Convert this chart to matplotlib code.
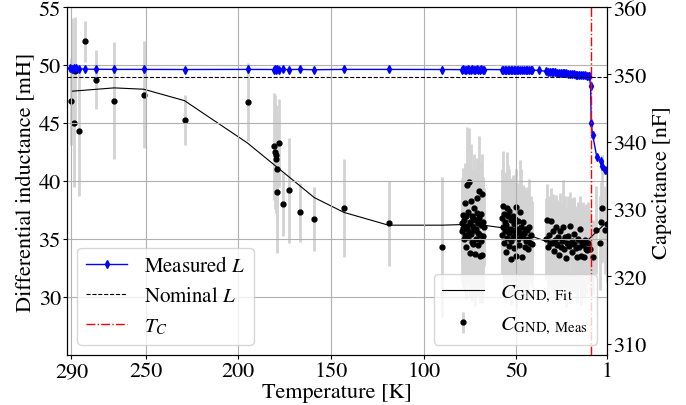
import numpy as np
import matplotlib.pyplot as plt

plt.rcParams['font.family'] = 'STIXGeneral'
plt.rcParams['mathtext.fontset'] = 'stix'
plt.rcParams['font.size'] = 16

# measured capacitance to ground: sparse points at high temperature
T0 = [290.0, 289.5, 288.8, 288.2, 286.0, 282.8, 276.9, 267.0, 251.0, 228.8, 195.0, 180.7, 180.0,
      179.7, 179.4, 179.0, 177.9, 179.2, 176.0, 172.8, 166.7, 159.0, 142.8, 118.8, 90.0]
C0 = [346.0, 350.9, 342.8, 350.5, 341.6, 354.9, 349.2, 346.1, 347.0, 343.2, 345.9, 339.3, 338.5,
      338.1, 337.4, 336.0, 339.8, 332.5, 330.7, 332.8, 329.5, 328.5, 330.1, 327.9, 324.3]
E0 = [6.5, 7.5, 9.6, 8.0, 9.7, 3.0, 4.4, 8.7, 8.0, 3.7, 5.8, 8.0, 8.5,
      7.0, 8.0, 7.5, 6.5, 9.0, 4.7, 7.8, 4.4, 4.8, 7.3, 6.3, 10.4]

# cluster around 67-80 K
T1 = [79.4, 79.1, 78.9, 78.6, 78.4, 78.1, 77.9, 77.6, 77.4, 77.2, 76.9, 76.7, 76.4, 76.2, 75.9,
      75.7, 75.5, 75.2, 75.0, 74.8, 74.5, 74.3, 74.0, 73.8, 73.6, 73.3, 73.1, 72.9, 72.6, 72.4,
      72.1, 71.9, 71.7, 71.4, 71.2, 70.9, 70.7, 70.5, 70.2, 70.0, 69.8, 69.5, 69.3, 69.0, 68.8,
      68.6, 68.3, 68.1, 67.9, 67.6]
C1 = [327.9, 326.8, 329.1, 327.2, 325.6, 328.4, 330.9, 326.1, 327.5, 324.3, 328.9, 333.6, 327.0,
      325.9, 329.6, 334.0, 326.6, 328.1, 323.4, 327.8, 331.2, 326.3, 329.0, 325.1, 327.4, 328.6,
      324.8, 330.2, 326.9, 323.3, 328.3, 327.1, 325.5, 329.4, 331.6, 326.4, 327.9, 324.6, 328.7,
      332.7, 323.0, 326.2, 329.2, 325.3, 327.6, 332.3, 323.1, 328.1, 326.0, 327.3]
E1 = [6.2, 7.8, 5.5, 8.9, 6.7, 7.1, 5.9, 8.3, 6.4, 7.6, 5.2, 8.6, 6.9, 7.4, 5.8, 8.1, 6.3, 7.9,
      6.6, 5.4, 8.4, 7.0, 6.1, 8.8, 5.7, 7.3, 6.8, 8.0, 5.3, 7.7, 6.5, 8.5, 5.6, 7.2, 6.0, 8.7,
      5.1, 7.5, 6.2, 8.2, 6.9, 5.5, 7.8, 6.4, 8.6, 5.9, 7.1, 6.7, 8.0, 5.8]

# cluster around 41-58 K
T2 = [57.8, 57.5, 57.2, 57.0, 56.7, 56.4, 56.1, 55.9, 55.6, 55.3, 55.0, 54.8, 54.5, 54.2, 53.9,
      53.7, 53.4, 53.1, 52.8, 52.6, 52.3, 52.0, 51.7, 51.4, 51.1, 50.8, 50.5, 50.2, 49.9, 49.6,
      49.3, 49.0, 48.6, 48.3, 48.0, 47.6, 47.3, 46.9, 46.6, 46.2, 45.9, 45.5, 45.1, 44.7, 44.3,
      43.9, 43.5, 43.0, 42.5, 42.0, 41.5]
C2 = [328.6, 326.1, 330.4, 327.3, 324.9, 329.2, 326.8, 328.0, 323.6, 327.6, 330.1, 325.7, 328.9,
      326.4, 324.5, 329.7, 327.1, 325.3, 328.3, 322.6, 326.9, 329.0, 325.9, 327.8, 324.2, 328.5,
      326.3, 330.3, 323.0, 327.0, 325.5, 328.2, 326.6, 324.7, 329.5, 326.0, 327.4, 322.9, 325.8,
      328.0, 326.5, 324.4, 327.1, 325.2, 326.9, 324.0, 325.6, 327.3, 325.0, 326.2, 324.8]
E2 = [7.4, 5.8, 8.2, 6.3, 7.9, 5.5, 8.7, 6.6, 7.1, 5.9, 8.4, 6.8, 7.6, 5.3, 8.0, 6.2, 7.3, 8.8,
      5.7, 6.9, 7.7, 6.0, 8.5, 5.4, 7.2, 6.5, 8.1, 5.6, 7.5, 6.7, 8.3, 5.2, 7.0, 6.4, 7.8, 5.9,
      8.6, 6.1, 7.4, 5.5, 6.8, 7.9, 5.8, 7.1, 6.3, 6.9, 5.6, 7.2, 6.0, 5.7, 6.4]

# cluster around 11-34 K
T3 = [34.0, 33.4, 32.9, 32.3, 31.8, 31.2, 30.7, 30.1, 29.6, 29.0, 28.5, 27.9, 27.4, 26.8, 26.3,
      25.7, 25.2, 24.6, 24.1, 23.5, 23.0, 22.4, 21.9, 21.3, 20.8, 20.2, 19.7, 19.1, 18.6, 18.0,
      17.5, 16.9, 16.4, 15.8, 15.3, 14.7, 14.2, 13.6, 13.1, 12.5, 12.0, 11.4]
C3 = [325.6, 328.3, 324.4, 326.2, 325.0, 328.2, 324.9, 326.7, 323.8, 325.4, 327.3, 324.6, 325.9,
      323.2, 326.8, 324.3, 325.2, 327.4, 324.0, 325.8, 322.7, 324.9, 326.0, 324.5, 327.5, 325.2,
      323.6, 324.8, 326.3, 324.2, 322.9, 325.5, 324.4, 327.0, 323.0, 325.1, 324.6, 322.8, 325.4,
      324.1, 323.9, 325.0]
E3 = [6.1, 5.4, 7.2, 5.8, 6.6, 4.9, 7.0, 5.5, 6.3, 5.9, 4.8, 6.8, 5.2, 7.1, 5.6, 6.4, 5.0, 6.9,
      5.7, 6.2, 7.3, 5.3, 6.0, 6.7, 5.1, 6.5, 5.8, 7.0, 5.4, 6.3, 6.8, 5.5, 6.1, 4.9, 7.2, 5.6,
      6.4, 5.9, 5.2, 6.6, 5.0, 6.0]

# below T_C
T4 = [10.0, 8.5, 7.2, 4.6, 4.2, 3.7, 1.9, 1.3]
C4 = [324.0, 322.9, 326.9, 325.0, 328.0, 330.1, 326.9, 327.7]
E4 = [6.0, 5.5, 6.5, 7.0, 6.0, 8.0, 6.5, 8.5]

# fitted capacitance
T_fit = [290, 267, 251, 229, 195, 159, 143, 119, 90, 78, 68, 57, 41, 35, 23, 14, 11, 6.4, 1]
C_fit = [347.5, 348.0, 347.8, 346.1, 339.8, 331.7, 329.5, 327.6, 327.6, 327.7, 327.6, 327.2,
         325.9, 325.3, 324.85, 325.0, 325.5, 326.7, 328.1]

# measured differential inductance
T_L = [291.0, 289.9, 288.8, 287.6, 286.0, 282.8, 276.9, 267.0, 251.0, 228.8, 195.0, 180.7, 180.0,
       179.4, 179.0, 177.9, 176.0, 172.8, 166.7, 159.0, 142.8, 118.8, 90.0,
       79.4, 78.6, 77.8, 77.0, 76.2, 75.4, 74.6, 73.8, 73.0, 72.2, 71.4, 70.6, 69.8, 69.0, 68.2, 67.5,
       57.8, 57.0, 56.2, 55.4, 54.6, 53.8, 53.0, 52.2, 51.4, 50.6, 49.8, 49.0, 48.0, 47.0, 46.0,
       45.0, 44.0, 43.0, 42.0, 41.5, 37.6,
       34.0, 33.0, 32.0, 31.0, 30.0, 29.0, 28.0, 27.0, 26.0, 25.0, 24.0, 23.0, 22.0, 21.0, 20.0,
       19.0, 18.0, 17.0, 16.0, 15.0, 14.0, 13.0, 12.0, 11.0,
       10.6, 9.9, 9.6, 8.8, 6.6, 4.5, 3.7, 2.3, 1.0]
L_meas = [49.72, 49.70, 49.73, 49.71, 49.70, 49.65, 49.64, 49.63, 49.63, 49.62, 49.63, 49.62, 49.63,
          49.62, 49.63, 49.62, 49.63, 49.62, 49.63, 49.60, 49.63, 49.63, 49.62,
          49.61, 49.63, 49.60, 49.62, 49.64, 49.61, 49.60, 49.63, 49.62, 49.61, 49.64, 49.60, 49.62,
          49.63, 49.61, 49.62,
          49.61, 49.60, 49.62, 49.61, 49.59, 49.60, 49.61, 49.59, 49.60, 49.58, 49.59, 49.60, 49.58,
          49.59, 49.57, 49.58, 49.59, 49.57, 49.58, 49.57, 49.55,
          49.46, 49.44, 49.43, 49.41, 49.40, 49.37, 49.36, 49.34, 49.33, 49.31, 49.29, 49.28, 49.26,
          49.24, 49.23, 49.21, 49.19, 49.18, 49.16, 49.14, 49.13, 49.11, 49.10, 49.08,
          49.06, 48.2, 45.0, 43.99, 42.1, 41.7, 41.27, 40.98, 40.98]

L_nominal = 49.0
T_C = 9.7

T_C_all = np.concatenate([T0, T1, T2, T3, T4])
C_all = np.concatenate([C0, C1, C2, C3, C4])
E_all = np.concatenate([E0, E1, E2, E3, E4])

fig, ax1 = plt.subplots(figsize=(6.86, 4.06), dpi=100)
ax2 = ax1.twinx()
# inductance axis drawn on top of the capacitance axis
ax1.set_zorder(ax2.get_zorder() + 1)
ax1.patch.set_visible(False)

l1, = ax1.plot(T_L, L_meas, color='b', marker='d', ms=4, lw=1, label='Measured $L$')
l2 = ax1.axhline(L_nominal, color='k', ls='--', lw=0.8, label='Nominal $L$')
l3 = ax1.axvline(T_C, color='r', ls='-.', lw=1, label='$T_C$')

eb = ax2.errorbar(T_C_all, C_all, yerr=E_all, fmt='o', color='k', ms=3.5,
                  ecolor='lightgray', elinewidth=2, label=r'$C_{\mathrm{GND,\ Meas}}$')
fl, = ax2.plot(T_fit, C_fit, 'k-', lw=0.8, label=r'$C_{\mathrm{GND,\ Fit}}$')

ax1.set_xlim(292.4, 1)
ax1.set_xticks([290, 250, 200, 150, 100, 50, 1])
ax1.set_ylim(25, 55)
ax1.set_yticks([30, 35, 40, 45, 50, 55])
ax2.set_ylim(308.3, 360)
ax2.set_yticks([310, 320, 330, 340, 350, 360])
ax1.grid(True)
ax1.tick_params(length=3, pad=1.5)
ax2.tick_params(length=3, pad=1.5)

ax1.set_xlabel('Temperature [K]', labelpad=1)
ax1.set_ylabel('Differential inductance [mH]', labelpad=2)
ax2.set_ylabel('Capacitance [nF]', labelpad=4)

leg1 = ax1.legend(handles=[l1, l2, l3], loc='lower left', fontsize=15)
ax1.add_artist(leg1)
ax1.legend(handles=[fl, eb], loc='lower right', fontsize=15)

plt.subplots_adjust(left=0.0977, right=0.885, top=0.98, bottom=0.123)
plt.savefig('out.png')
